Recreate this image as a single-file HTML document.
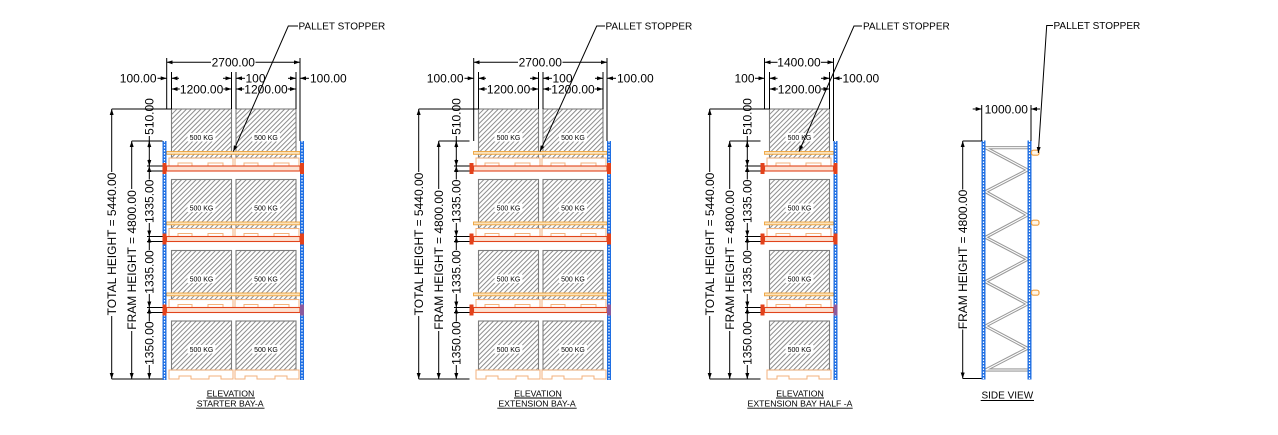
<!DOCTYPE html>
<html><head><meta charset="utf-8"><style>
html,body{margin:0;padding:0;background:#fff;}
svg{display:block;}
text{font-family:"Liberation Sans",Arial,sans-serif;fill:#000;}
</style></head><body>
<svg width="1278" height="435" viewBox="0 0 1278 435" xmlns="http://www.w3.org/2000/svg">
<defs>
<pattern id="h" width="3.4" height="3.4" patternUnits="userSpaceOnUse" patternTransform="rotate(45)">
<rect width="3.4" height="3.4" fill="#fff"/><rect width="1" height="3.4" fill="#8c8c8c"/></pattern>
<marker id="a" viewBox="0 0 6 4" refX="6" refY="2" markerWidth="6" markerHeight="4" markerUnits="userSpaceOnUse" orient="auto"><path d="M0,0L6,2L0,4z" fill="#000"/></marker>
<g id="bx"><rect x="0" y="0" width="60" height="49" fill="url(#h)" stroke="#7d7d7d" stroke-width="1.1"/><rect x="16" y="24" width="28" height="8.5" fill="#fff"/></g>
<g id="pl" fill="none" stroke="#f3b27c" stroke-width="1"><rect x="0" y="0" width="64" height="8"/><rect x="9" y="5" width="14" height="3"/><rect x="39" y="5" width="15" height="3"/></g>
<path id="gp" d="M0,0V9H10V6H22V9H40V6H52V9H64V0Z" fill="none" stroke="#f3b27c" stroke-width="1"/>
<g id="up"><rect width="4" height="239" fill="#1f6fe3"/><line x1="2" y1="0" x2="2" y2="239" stroke="#fff" stroke-width="1.2" stroke-dasharray="1.5 1.5"/></g>
</defs>

<!-- ================= ELEVATION 1 (STARTER) ================= -->
<g id="e1">
<use href="#bx" x="171.5" y="109"/><use href="#bx" x="236" y="109"/>
<use href="#bx" x="171.5" y="179.5"/><use href="#bx" x="236" y="179.5"/>
<use href="#bx" x="171.5" y="250.5"/><use href="#bx" x="236" y="250.5"/>
<use href="#bx" x="171.5" y="321"/><use href="#bx" x="236" y="321"/>
<g font-size="7" text-anchor="middle">
<text x="201.5" y="139.8">500 KG</text><text x="266" y="139.8">500 KG</text>
<text x="201.5" y="210.3">500 KG</text><text x="266" y="210.3">500 KG</text>
<text x="201.5" y="281.3">500 KG</text><text x="266" y="281.3">500 KG</text>
<text x="201.5" y="351.8">500 KG</text><text x="266" y="351.8">500 KG</text>
</g>
<g fill="#fbe3bd" stroke="#eea23a" stroke-width="0.9">
<rect x="166.5" y="151.5" width="133.5" height="2.8"/>
<rect x="166.5" y="222" width="133.5" height="2.8"/>
<rect x="166.5" y="293" width="133.5" height="2.8"/>
</g>
<use href="#pl" x="169" y="158"/><use href="#pl" x="235" y="158"/>
<use href="#pl" x="169" y="228.5"/><use href="#pl" x="235" y="228.5"/>
<use href="#pl" x="169" y="299.5"/><use href="#pl" x="235" y="299.5"/>
<use href="#gp" x="169" y="370"/><use href="#gp" x="235" y="370"/>
<g fill="#fde2d2" stroke="#e0441c" stroke-width="1.1">
<rect x="166.5" y="166" width="133.5" height="5"/>
<rect x="166.5" y="236.5" width="133.5" height="5"/>
<rect x="166.5" y="307.5" width="133.5" height="5"/>
</g>
<use href="#up" x="162.5" y="141"/><use href="#up" x="300" y="141"/>
<g fill="#e3421b">
<rect x="162.5" y="163" width="4" height="11"/><rect x="300" y="163" width="4" height="11"/>
<rect x="162.5" y="233.5" width="4" height="11"/><rect x="300" y="233.5" width="4" height="11"/>
<rect x="162.5" y="304.5" width="4" height="11"/><rect x="300" y="304.5" width="4" height="11" fill="#8c5a9c"/>
</g>
<!-- left dims -->
<g stroke="#000" stroke-width="1" fill="none">
<path d="M111.7,109H171.5M131.7,141H162.5M147,166H162.5M147,171H162.5M147,236.5H162.5M147,241.5H162.5M147,307.5H162.5M147,312.5H162.5M111.7,379H162.5M149.3,136V166"/>
<path d="M111.7,172V109" marker-end="url(#a)"/><path d="M111.7,316V379" marker-end="url(#a)"/>
<path d="M131.7,189V141" marker-end="url(#a)"/><path d="M131.7,331V379" marker-end="url(#a)"/>
<path d="M149.3,148V141" marker-end="url(#a)"/><path d="M149.3,159V166" marker-end="url(#a)"/>
<path d="M149.3,179.5V166" marker-end="url(#a)"/><path d="M149.3,223V236.5" marker-end="url(#a)"/>
<path d="M149.3,250V236.5" marker-end="url(#a)"/><path d="M149.3,294V307.5" marker-end="url(#a)"/>
<path d="M149.3,321.5V307.5" marker-end="url(#a)"/><path d="M149.3,365V379" marker-end="url(#a)"/>
</g>
<g font-size="12" text-anchor="middle">
<text transform="translate(116,244) rotate(-90)">TOTAL HEIGHT = 5440.00</text>
<text transform="translate(136,260) rotate(-90)">FRAM HEIGHT = 4800.00</text>
<text transform="translate(153.6,116.5) rotate(-90)">510.00</text>
<text transform="translate(153.6,201.3) rotate(-90)">1335.00</text>
<text transform="translate(153.6,272) rotate(-90)">1335.00</text>
<text transform="translate(153.6,343.2) rotate(-90)">1350.00</text>
</g>
<!-- top dims -->
<g stroke="#000" stroke-width="1" fill="none">
<path d="M166.7,58V109M300,58V141M171.5,72V109M231.5,72V109M236,72V109M296,72V109"/>
<path d="M211,62.3H166.7" marker-end="url(#a)"/><path d="M255.5,62.3H300" marker-end="url(#a)"/>
<path d="M157.5,78.3H166.7" marker-end="url(#a)"/><path d="M179,78.3H171.5" marker-end="url(#a)"/>
<path d="M223,78.3H231.5" marker-end="url(#a)"/><path d="M245,78.3H236" marker-end="url(#a)"/>
<path d="M288,78.3H296" marker-end="url(#a)"/><path d="M309,78.3H300" marker-end="url(#a)"/>
<path d="M179.8,89H171.5" marker-end="url(#a)"/><path d="M223.3,89H231.5" marker-end="url(#a)"/>
<path d="M244.2,89H236" marker-end="url(#a)"/><path d="M287.8,89H296" marker-end="url(#a)"/>
<path d="M298,26H288.3L233.3,151.5" marker-end="url(#a)"/>
</g>
<g font-size="12">
<text x="233.3" y="66.6" text-anchor="middle">2700.00</text>
<text x="156.5" y="82.6" text-anchor="end">100.00</text>
<text x="245.5" y="82.6">100</text>
<text x="310" y="82.6">100.00</text>
<text x="201.6" y="93.3" text-anchor="middle">1200.00</text>
<text x="266" y="93.3" text-anchor="middle">1200.00</text>
</g>
<text x="298.5" y="29.6" font-size="10">PALLET STOPPER</text>
<g font-size="8.7" text-anchor="middle">
<text x="230.5" y="396.5">ELEVATION</text>
<text x="230.2" y="406.5">STARTER BAY-A</text>
</g>
<path d="M206.5,398H255M196,408.2H264.5" stroke="#000" stroke-width="0.9"/>
</g>

<!-- ================= ELEVATION 2 (EXTENSION) ================= -->
<g transform="translate(307,0)">
<use href="#bx" x="171.5" y="109"/><use href="#bx" x="236" y="109"/>
<use href="#bx" x="171.5" y="179.5"/><use href="#bx" x="236" y="179.5"/>
<use href="#bx" x="171.5" y="250.5"/><use href="#bx" x="236" y="250.5"/>
<use href="#bx" x="171.5" y="321"/><use href="#bx" x="236" y="321"/>
<g font-size="7" text-anchor="middle">
<text x="201.5" y="139.8">500 KG</text><text x="266" y="139.8">500 KG</text>
<text x="201.5" y="210.3">500 KG</text><text x="266" y="210.3">500 KG</text>
<text x="201.5" y="281.3">500 KG</text><text x="266" y="281.3">500 KG</text>
<text x="201.5" y="351.8">500 KG</text><text x="266" y="351.8">500 KG</text>
</g>
<g fill="#fbe3bd" stroke="#eea23a" stroke-width="0.9">
<rect x="166.5" y="151.5" width="133.5" height="2.8"/>
<rect x="166.5" y="222" width="133.5" height="2.8"/>
<rect x="166.5" y="293" width="133.5" height="2.8"/>
</g>
<use href="#pl" x="169" y="158"/><use href="#pl" x="235" y="158"/>
<use href="#pl" x="169" y="228.5"/><use href="#pl" x="235" y="228.5"/>
<use href="#pl" x="169" y="299.5"/><use href="#pl" x="235" y="299.5"/>
<use href="#gp" x="169" y="370"/><use href="#gp" x="235" y="370"/>
<g fill="#fde2d2" stroke="#e0441c" stroke-width="1.1">
<rect x="166.5" y="166" width="133.5" height="5"/>
<rect x="166.5" y="236.5" width="133.5" height="5"/>
<rect x="166.5" y="307.5" width="133.5" height="5"/>
</g>
<use href="#up" x="300" y="141"/>
<g fill="#e3421b">
<rect x="162.5" y="163" width="4" height="11"/><rect x="300" y="163" width="4" height="11"/>
<rect x="162.5" y="233.5" width="4" height="11"/><rect x="300" y="233.5" width="4" height="11"/>
<rect x="162.5" y="304.5" width="4" height="11"/><rect x="300" y="304.5" width="4" height="11" fill="#8c5a9c"/>
</g>
<g stroke="#000" stroke-width="1" fill="none">
<path d="M111.7,109H171.5M131.7,141H162.5M147,166H162.5M147,171H162.5M147,236.5H162.5M147,241.5H162.5M147,307.5H162.5M147,312.5H162.5M111.7,379H162.5M149.3,136V166"/>
<path d="M111.7,172V109" marker-end="url(#a)"/><path d="M111.7,316V379" marker-end="url(#a)"/>
<path d="M131.7,189V141" marker-end="url(#a)"/><path d="M131.7,331V379" marker-end="url(#a)"/>
<path d="M149.3,148V141" marker-end="url(#a)"/><path d="M149.3,159V166" marker-end="url(#a)"/>
<path d="M149.3,179.5V166" marker-end="url(#a)"/><path d="M149.3,223V236.5" marker-end="url(#a)"/>
<path d="M149.3,250V236.5" marker-end="url(#a)"/><path d="M149.3,294V307.5" marker-end="url(#a)"/>
<path d="M149.3,321.5V307.5" marker-end="url(#a)"/><path d="M149.3,365V379" marker-end="url(#a)"/>
</g>
<g font-size="12" text-anchor="middle">
<text transform="translate(116,244) rotate(-90)">TOTAL HEIGHT = 5440.00</text>
<text transform="translate(136,260) rotate(-90)">FRAM HEIGHT = 4800.00</text>
<text transform="translate(153.6,116.5) rotate(-90)">510.00</text>
<text transform="translate(153.6,201.3) rotate(-90)">1335.00</text>
<text transform="translate(153.6,272) rotate(-90)">1335.00</text>
<text transform="translate(153.6,343.2) rotate(-90)">1350.00</text>
</g>
<g stroke="#000" stroke-width="1" fill="none">
<path d="M166.7,58V141M300,58V141M171.5,72V109M231.5,72V109M236,72V109M296,72V109"/>
<path d="M211,62.3H166.7" marker-end="url(#a)"/><path d="M255.5,62.3H300" marker-end="url(#a)"/>
<path d="M157.5,78.3H166.7" marker-end="url(#a)"/><path d="M179,78.3H171.5" marker-end="url(#a)"/>
<path d="M223,78.3H231.5" marker-end="url(#a)"/><path d="M245,78.3H236" marker-end="url(#a)"/>
<path d="M288,78.3H296" marker-end="url(#a)"/><path d="M309,78.3H300" marker-end="url(#a)"/>
<path d="M179.8,89H171.5" marker-end="url(#a)"/><path d="M223.3,89H231.5" marker-end="url(#a)"/>
<path d="M244.2,89H236" marker-end="url(#a)"/><path d="M287.8,89H296" marker-end="url(#a)"/>
<path d="M298,26H289.7L233,151.5" marker-end="url(#a)"/>
</g>
<g font-size="12">
<text x="233.3" y="66.6" text-anchor="middle">2700.00</text>
<text x="156.5" y="82.6" text-anchor="end">100.00</text>
<text x="245.5" y="82.6">100</text>
<text x="310" y="82.6">100.00</text>
<text x="201.6" y="93.3" text-anchor="middle">1200.00</text>
<text x="266" y="93.3" text-anchor="middle">1200.00</text>
</g>
<text x="298.5" y="29.6" font-size="10">PALLET STOPPER</text>
<g font-size="8.7" text-anchor="middle">
<text x="231" y="396.5">ELEVATION</text>
<text x="230" y="406.5">EXTENSION BAY-A</text>
</g>
<path d="M207,398H255M190.3,408.2H269.7" stroke="#000" stroke-width="0.9"/>
</g>

<!-- ================= ELEVATION 3 (HALF) ================= -->
<g transform="translate(598,0)">
<use href="#bx" x="171.5" y="109"/>
<use href="#bx" x="171.5" y="179.5"/>
<use href="#bx" x="171.5" y="250.5"/>
<use href="#bx" x="171.5" y="321"/>
<g font-size="7" text-anchor="middle">
<text x="201.5" y="139.8">500 KG</text>
<text x="201.5" y="210.3">500 KG</text>
<text x="201.5" y="281.3">500 KG</text>
<text x="201.5" y="351.8">500 KG</text>
</g>
<g fill="#fbe3bd" stroke="#eea23a" stroke-width="0.9">
<rect x="166.5" y="151.5" width="69" height="2.8"/>
<rect x="166.5" y="222" width="69" height="2.8"/>
<rect x="166.5" y="293" width="69" height="2.8"/>
</g>
<use href="#pl" x="169" y="158"/>
<use href="#pl" x="169" y="228.5"/>
<use href="#pl" x="169" y="299.5"/>
<use href="#gp" x="169" y="370"/>
<g fill="#fde2d2" stroke="#e0441c" stroke-width="1.1">
<rect x="166.5" y="166" width="69" height="5"/>
<rect x="166.5" y="236.5" width="69" height="5"/>
<rect x="166.5" y="307.5" width="69" height="5"/>
</g>
<use href="#up" x="235.5" y="141"/>
<g fill="#e3421b">
<rect x="162.5" y="163" width="4" height="11"/><rect x="235.5" y="163" width="4" height="11"/>
<rect x="162.5" y="233.5" width="4" height="11"/><rect x="235.5" y="233.5" width="4" height="11"/>
<rect x="162.5" y="304.5" width="4" height="11"/><rect x="235.5" y="304.5" width="4" height="11" fill="#8c5a9c"/>
</g>
<g stroke="#000" stroke-width="1" fill="none">
<path d="M111.7,109H171.5M131.7,141H162.5M147,166H162.5M147,171H162.5M147,236.5H162.5M147,241.5H162.5M147,307.5H162.5M147,312.5H162.5M111.7,379H162.5M149.3,136V166"/>
<path d="M111.7,172V109" marker-end="url(#a)"/><path d="M111.7,316V379" marker-end="url(#a)"/>
<path d="M131.7,189V141" marker-end="url(#a)"/><path d="M131.7,331V379" marker-end="url(#a)"/>
<path d="M149.3,148V141" marker-end="url(#a)"/><path d="M149.3,159V166" marker-end="url(#a)"/>
<path d="M149.3,179.5V166" marker-end="url(#a)"/><path d="M149.3,223V236.5" marker-end="url(#a)"/>
<path d="M149.3,250V236.5" marker-end="url(#a)"/><path d="M149.3,294V307.5" marker-end="url(#a)"/>
<path d="M149.3,321.5V307.5" marker-end="url(#a)"/><path d="M149.3,365V379" marker-end="url(#a)"/>
</g>
<g font-size="12" text-anchor="middle">
<text transform="translate(116,244) rotate(-90)">TOTAL HEIGHT = 5440.00</text>
<text transform="translate(136,260) rotate(-90)">FRAM HEIGHT = 4800.00</text>
<text transform="translate(153.6,116.5) rotate(-90)">510.00</text>
<text transform="translate(153.6,201.3) rotate(-90)">1335.00</text>
<text transform="translate(153.6,272) rotate(-90)">1335.00</text>
<text transform="translate(153.6,343.2) rotate(-90)">1350.00</text>
</g>
<g stroke="#000" stroke-width="1" fill="none">
<path d="M166.5,58V109M235.5,58V141M171.5,72V109M231.5,72V109"/>
<path d="M179.5,62.3H166.5" marker-end="url(#a)"/><path d="M223,62.3H235.5" marker-end="url(#a)"/>
<path d="M157,78.3H166.5" marker-end="url(#a)"/><path d="M179.5,78.3H171.5" marker-end="url(#a)"/>
<path d="M223,78.3H231.5" marker-end="url(#a)"/><path d="M244,78.3H235.5" marker-end="url(#a)"/>
<path d="M179.8,89H171.5" marker-end="url(#a)"/><path d="M223.2,89H231.5" marker-end="url(#a)"/>
<path d="M264,26H256L201,151.5" marker-end="url(#a)"/>
</g>
<g font-size="12">
<text x="201" y="66.6" text-anchor="middle">1400.00</text>
<text x="156.5" y="82.6" text-anchor="end">100</text>
<text x="244.5" y="82.6">100.00</text>
<text x="201.5" y="93.3" text-anchor="middle">1200.00</text>
</g>
<text x="265" y="29.6" font-size="10">PALLET STOPPER</text>
<g font-size="8.7" text-anchor="middle">
<text x="202" y="396.5">ELEVATION</text>
<text x="202" y="406.5">EXTENSION BAY HALF -A</text>
</g>
<path d="M178,398H226M149.3,408.2H254.7" stroke="#000" stroke-width="0.9"/>
</g>

<!-- ================= SIDE VIEW ================= -->
<g>
<path d="M985.5,147.7H1027.5M985.5,147.7L1027.5,170L985.5,191.7L1027.5,215L985.5,237.3L1027.5,259.3L985.5,281.7L1027.5,304L985.5,326L1027.5,348.3L985.5,370H1027.5" fill="none" stroke="#9a9a9a" stroke-width="3.2" stroke-linejoin="round"/>
<path d="M985.5,147.7H1027.5M985.5,147.7L1027.5,170L985.5,191.7L1027.5,215L985.5,237.3L1027.5,259.3L985.5,281.7L1027.5,304L985.5,326L1027.5,348.3L985.5,370H1027.5" fill="none" stroke="#fff" stroke-width="1.1" stroke-linejoin="round"/>
<use href="#up" x="981.5" y="140.5"/><use href="#up" x="1027.5" y="140.5"/>
<g fill="#fff6e8" stroke="#f0a040" stroke-width="1.2">
<rect x="1031.5" y="150.2" width="7.5" height="5" rx="2"/>
<rect x="1031.5" y="220.2" width="7.5" height="5" rx="2"/>
<rect x="1031.5" y="290.2" width="7.5" height="5" rx="2"/>
</g>
<g stroke="#000" stroke-width="1" fill="none">
<path d="M981.7,105V141M1031,105V141M962.7,141H981.5M962.7,378.5H981.5"/>
<path d="M972.7,109H981.7" marker-end="url(#a)"/><path d="M1040,109H1031" marker-end="url(#a)"/>
<path d="M962.7,189.5V141" marker-end="url(#a)"/><path d="M962.7,329.5V378.5" marker-end="url(#a)"/>
<path d="M1053,25.5H1046.7L1038.3,153" marker-end="url(#a)"/>
</g>
<text x="1006.3" y="113.3" font-size="12" text-anchor="middle">1000.00</text>
<text transform="translate(967,259.5) rotate(-90)" font-size="12" text-anchor="middle">FRAM HEIGHT = 4800.00</text>
<text x="1053.5" y="29.1" font-size="10">PALLET STOPPER</text>
<text x="1007.3" y="398.3" font-size="10" text-anchor="middle">SIDE VIEW</text>
<path d="M980.7,400.5H1034" stroke="#000" stroke-width="0.9"/>
</g>
</svg>
</body></html>
